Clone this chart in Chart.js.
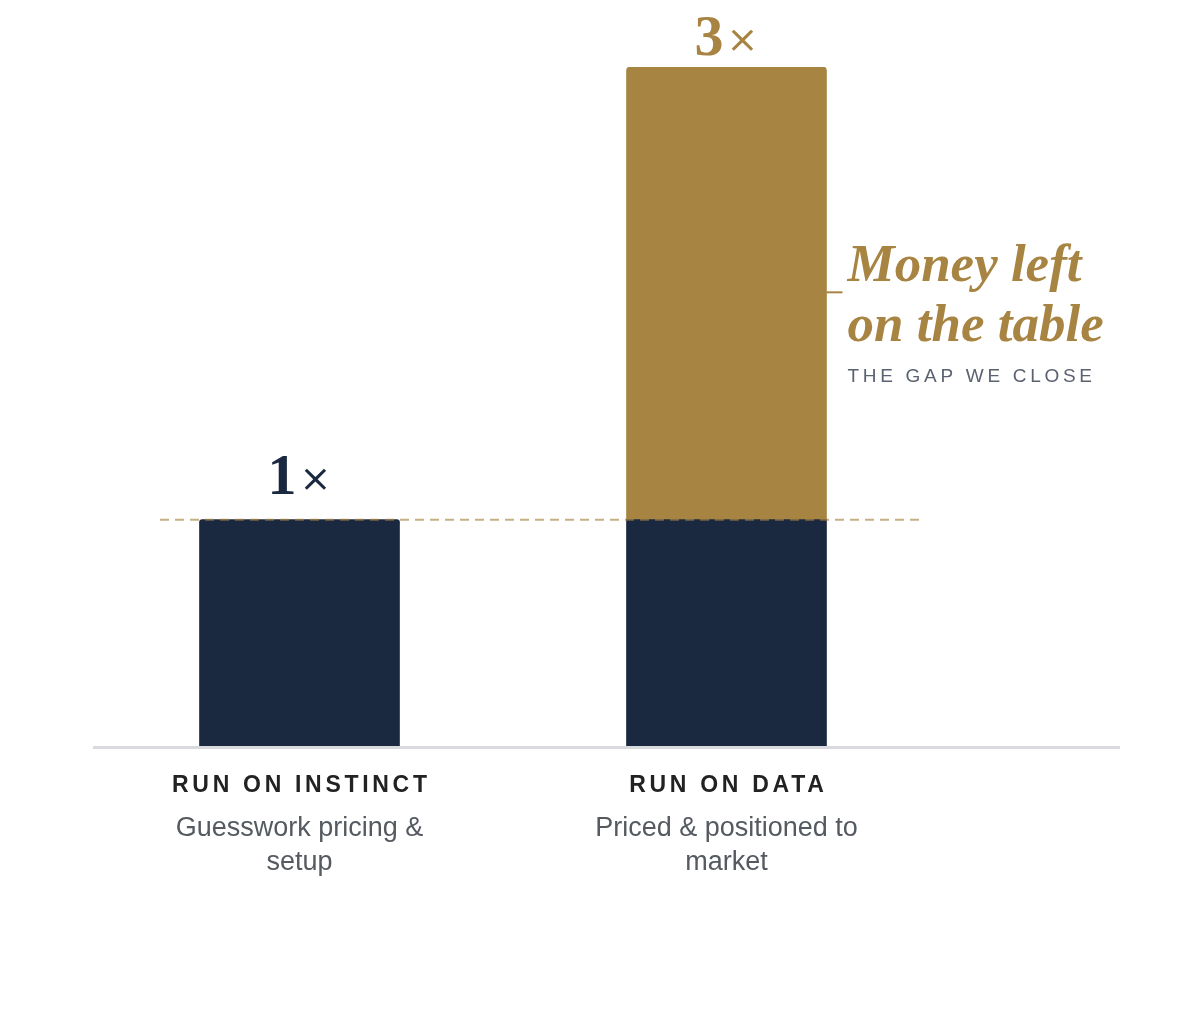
<!DOCTYPE html>
<html>
<head>
<meta charset="utf-8">
<script src="https://cdn.jsdelivr.net/npm/chart.js@4"></script>
<style>
  html, body { margin: 0; padding: 0; background: #fff; }
  #wrap { width: 1200px; height: 1013px; }
</style>
</head>
<body>
<div id="wrap"><canvas id="gap" width="1200" height="1013"></canvas></div>
<script>

const categories = ["RUN ON INSTINCT", "RUN ON DATA"]
const subtitles = [["Guesswork pricing &", "setup"], ["Priced & positioned to", "market"]]
const baseValues = [1, 1]
const gapValues = [null, 2]
const multipleLabels = ["1×", "3×"]

const NAVY = "#1a2940"
const GOLD = "#a88442"

// overlay: baseline, dashed 1x line, value labels, category text, gap callout
const overlay = {
    id: "overlay",
    afterDatasetsDraw(chart){
        const ctx = chart.ctx
        const x = chart.scales.x
        const y = chart.scales.y
        const base = y.getPixelForValue(0)
        const one = y.getPixelForValue(1)

        ctx.save()

        // baseline
        ctx.strokeStyle = "#d8dadd"
        ctx.lineWidth = 3
        ctx.beginPath()
        ctx.moveTo(93, base + 1.5)
        ctx.lineTo(1120, base + 1.5)
        ctx.stroke()

        // dashed 1x reference
        ctx.strokeStyle = "rgba(168,132,66,0.65)"
        ctx.lineWidth = 2
        ctx.setLineDash([9, 6])
        ctx.beginPath()
        ctx.moveTo(160, one)
        ctx.lineTo(920, one)
        ctx.stroke()
        ctx.setLineDash([])

        // multiple labels above each stack
        categories.forEach((c, i)=>{
            const total = baseValues[i] + (gapValues[i] || 0)
            const cx = x.getPixelForValue(i)
            const top = y.getPixelForValue(total)
            const color = gapValues[i] ? GOLD : NAVY
            const num = multipleLabels[i].slice(0, -1)
            const sign = "×"
            const gap = gapValues[i] ? 12 : 26
            const numFont = "bold 58px 'Liberation Serif'"
            const signFont = "38px 'DejaVu Sans'"
            ctx.fillStyle = color
            ctx.textBaseline = "alphabetic"
            ctx.font = numFont
            const w1 = ctx.measureText(num).width
            ctx.font = signFont
            const w2 = ctx.measureText(sign).width
            const start = cx - (w1 + 3 + w2) / 2
            ctx.textAlign = "left"
            ctx.font = numFont
            ctx.fillText(num, start, top - gap)
            ctx.font = signFont
            ctx.fillText(sign, start + w1 + 3, top - gap - 3)
        })

        // category labels
        ctx.textAlign = "center"
        categories.forEach((c, i)=>{
            const cx = x.getPixelForValue(i)
            ctx.fillStyle = "#222"
            ctx.font = "bold 23px 'Liberation Sans'"
            ctx.letterSpacing = "3.7px"
            ctx.fillText(c, cx + 1.85, base + 46)
            ctx.letterSpacing = "0px"
            ctx.fillStyle = "#555a60"
            ctx.font = "27px 'Liberation Sans'"
            subtitles[i].forEach((line, j)=>{
                ctx.fillText(line, cx, base + 90 + j * 34)
            })
        })

        // gap callout
        const right = x.getPixelForValue(1) + 100
        const mid = y.getPixelForValue(2)
        ctx.strokeStyle = GOLD
        ctx.lineWidth = 2
        ctx.beginPath()
        ctx.moveTo(right, mid - 1)
        ctx.lineTo(right + 16, mid - 1)
        ctx.stroke()

        ctx.textAlign = "left"
        ctx.fillStyle = GOLD
        ctx.font = "italic bold 53px 'Liberation Serif'"
        ctx.fillText("Money left", right + 21, mid - 12)
        ctx.fillText("on the table", right + 21, mid + 48)

        ctx.fillStyle = "#5a6270"
        ctx.font = "19px 'Liberation Sans'"
        ctx.letterSpacing = "3.7px"
        ctx.fillText("THE GAP WE CLOSE", right + 21, mid + 89)
        ctx.letterSpacing = "0px"

        ctx.restore()
    }
}

new Chart(document.getElementById("gap"), {
    type: "bar",
    data: {
        labels: categories,
        datasets: [
            {
                label: "Base",
                data: baseValues,
                backgroundColor: NAVY,
                borderRadius: (c)=> gapValues[c.dataIndex] ? 0 : {topLeft: 3, topRight: 3},
                borderSkipped: "start",
                barThickness: 200
            },
            {
                label: "Gap",
                data: gapValues,
                backgroundColor: GOLD,
                borderRadius: {topLeft: 4, topRight: 4},
                borderSkipped: "start",
                barThickness: 200
            }
        ]
    },
    options: {
        responsive: false,
        animation: false,
        layout: {
            padding: {left: 86, right: 260, top: 67, bottom: 267}
        },
        plugins: {
            legend: {display: false},
            tooltip: {enabled: false}
        },
        scales: {
            x: {
                stacked: true,
                display: false,
                grid: {display: false}
            },
            y: {
                stacked: true,
                display: false,
                min: 0,
                max: 3
            }
        }
    },
    plugins: [overlay]
})

</script>
</body>
</html>
